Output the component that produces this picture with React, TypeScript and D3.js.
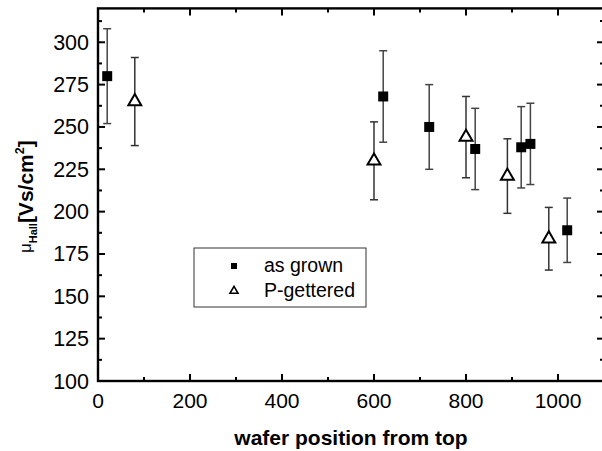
import React from "react";
import * as d3 from "d3";

// as grown wafers
const asGrownPos = [20, 620, 720, 820, 920, 940, 1020];
const asGrownMu = [280, 268, 250, 237, 238, 240, 189];
const asGrownErr = [28, 27, 25, 24, 24, 24, 19];

// P-gettered wafers
const gettPos = [80, 600, 800, 890, 980];
const gettMu = [265, 230, 244, 221, 184];
const gettErr = [26, 23, 24, 22, 18.5];

const xTicks = [0, 200, 400, 600, 800, 1000];
const yTicks = [100, 125, 150, 175, 200, 225, 250, 275, 300];
const legendLabels = ["as grown", "P-gettered"];

const FONT = "'Liberation Sans', Arial, Helvetica, sans-serif";

export default function App() {
  const W = 602;
  const H = 451;
  const x = d3.scaleLinear().domain([0, 1100]).range([98, 604]);
  const y = d3.scaleLinear().domain([100, 320]).range([381, 8.4]);

  const xMinor = d3.range(100, 1100, 200);
  const yMinor = d3.range(112.5, 320, 25);
  const x0 = x(0), x1 = x(1100), y0 = y(100), y1 = y(320);
  const major = 7, minor = 4;

  const square = d3.symbol(d3.symbolSquare, 100)()!;
  const tri = d3.symbol(d3.symbolTriangle, 72)()!;
  const sqSmall = d3.symbol(d3.symbolSquare, 36)()!;
  const triSmall = d3.symbol(d3.symbolTriangle, 28)()!;

  const errBar = (px: number, v: number, e: number, key: string, color: string) => (
    <g key={key} stroke={color} strokeWidth={1.5}>
      <line x1={x(px)} x2={x(px)} y1={y(v - e)} y2={y(v + e)} />
      <line x1={x(px) - 4} x2={x(px) + 4} y1={y(v + e)} y2={y(v + e)} />
      <line x1={x(px) - 4} x2={x(px) + 4} y1={y(v - e)} y2={y(v - e)} />
    </g>
  );

  return (
    <svg width={W} height={H} style={{ position: "absolute", left: 0, top: 0, background: "#fff" }} fontFamily={FONT}>
      {/* error bars */}
      {asGrownPos.map((p, i) => errBar(p, asGrownMu[i], asGrownErr[i], "ea" + i, "#444"))}
      {gettPos.map((p, i) => errBar(p, gettMu[i], gettErr[i], "eg" + i, "#333"))}

      {/* markers */}
      {asGrownPos.map((p, i) => (
        <path key={"a" + i} d={square} transform={`translate(${x(p)},${y(asGrownMu[i])})`} fill="#000" />
      ))}
      {gettPos.map((p, i) => (
        <path key={"g" + i} d={tri} transform={`translate(${x(p)},${y(gettMu[i])})`} fill="#fff" stroke="#000" strokeWidth={2} />
      ))}

      {/* frame */}
      <rect x={x0} y={y1} width={x1 - x0} height={y0 - y1} fill="none" stroke="#000" strokeWidth={2.4} />

      {/* x ticks */}
      {xTicks.map((t) => (
        <g key={"xt" + t} stroke="#000" strokeWidth={2}>
          <line x1={x(t)} x2={x(t)} y1={y0} y2={y0 - major} />
          <line x1={x(t)} x2={x(t)} y1={y1} y2={y1 + major} />
        </g>
      ))}
      {xMinor.map((t) => (
        <g key={"xm" + t} stroke="#000" strokeWidth={2}>
          <line x1={x(t)} x2={x(t)} y1={y0} y2={y0 - minor} />
          <line x1={x(t)} x2={x(t)} y1={y1} y2={y1 + minor} />
        </g>
      ))}
      {xTicks.map((t) => (
        <text key={"xl" + t} x={x(t)} y={408} textAnchor="middle" fontSize={21} fill="#000">
          {t}
        </text>
      ))}

      {/* y ticks */}
      {yTicks.map((t) => (
        <g key={"yt" + t} stroke="#000" strokeWidth={2}>
          <line x1={x0} x2={x0 + major} y1={y(t)} y2={y(t)} />
          <line x1={x1} x2={x1 - major} y1={y(t)} y2={y(t)} />
        </g>
      ))}
      {yMinor.map((t) => (
        <g key={"ym" + t} stroke="#000" strokeWidth={2}>
          <line x1={x0} x2={x0 + minor} y1={y(t)} y2={y(t)} />
          <line x1={x1} x2={x1 - minor} y1={y(t)} y2={y(t)} />
        </g>
      ))}
      {yTicks.map((t) => (
        <text key={"yl" + t} x={89} y={y(t) + 7.5} textAnchor="end" fontSize={21.5} fill="#000">
          {t}
        </text>
      ))}

      {/* axis titles */}
      <text x={351} y={445} textAnchor="middle" fontSize={21} fontWeight="bold" fill="#000">
        wafer position from top
      </text>
      <text transform={`translate(33,${(y0 + y1) / 2 + 2}) rotate(-90)`} textAnchor="middle" fill="#000">
        <tspan fontSize={17} dy={-2}>μ</tspan>
        <tspan fontSize={11} fontWeight="bold" dy={6}>Hall</tspan>
        <tspan fontSize={21} fontWeight="bold" dy={-4}>[Vs/cm</tspan>
        <tspan fontSize={12.5} fontWeight="bold" dy={-9}>2</tspan>
        <tspan fontSize={21} fontWeight="bold" dy={9}>]</tspan>
      </text>

      {/* legend */}
      <rect x={194} y={248} width={172} height={59} fill="#fff" stroke="#333" strokeWidth={1} />
      <path d={sqSmall} transform="translate(234,266)" fill="#000" />
      <path d={triSmall} transform="translate(234,291)" fill="#fff" stroke="#000" strokeWidth={1.6} />
      <text x={264} y={272} fontSize={19.5} fill="#000">{legendLabels[0]}</text>
      <text x={264} y={297} fontSize={19.5} fill="#000">{legendLabels[1]}</text>
    </svg>
  );
}
